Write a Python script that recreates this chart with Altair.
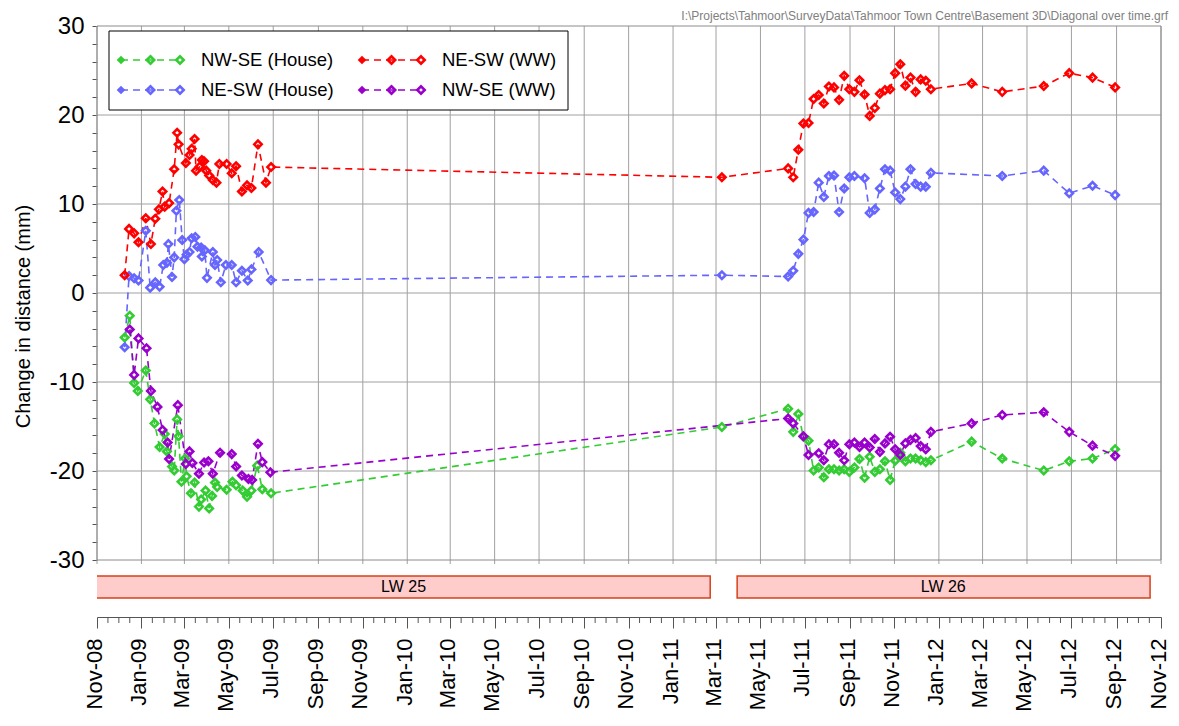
import altair as alt
import pandas as pd

FONT = "Liberation Sans"

# ---------------- data ----------------
series_names = ["NW-SE (House)", "NE-SW (House)", "NE-SW (WW)", "NW-SE (WW)"]
series_colors = ["#33CC33", "#6666FF", "#FF0000", "#9900CC"]

green_2009_dates = ["2008-12-09", "2008-12-16", "2008-12-22", "2008-12-27", "2009-01-07", "2009-01-13",
                    "2009-01-19", "2009-01-26", "2009-02-02", "2009-02-05", "2009-02-12", "2009-02-15",
                    "2009-02-19", "2009-02-21", "2009-02-25", "2009-03-02", "2009-03-04", "2009-03-10",
                    "2009-03-15", "2009-03-21", "2009-03-24", "2009-03-30", "2009-04-04", "2009-04-08",
                    "2009-04-12", "2009-04-15", "2009-04-28", "2009-05-06", "2009-05-11", "2009-05-20",
                    "2009-05-26", "2009-06-01", "2009-06-09", "2009-06-16", "2009-06-28"]
green_2009 = [-5.0, -2.55, -10.1, -11.0, -8.7, -11.95, -14.65, -17.3, -15.85, -17.8, -19.5, -19.95,
              -14.2, -16.1, -21.2, -18.6, -20.6, -22.5, -21.3, -24.0, -23.2, -22.2, -24.2, -22.8,
              -21.3, -21.8, -22.1, -21.2, -21.6, -22.2, -22.9, -22.2, -19.4, -22.05, -22.5]

blue_2009_dates = ["2008-12-09", "2008-12-15", "2008-12-22", "2008-12-28", "2009-01-07", "2009-01-13",
                   "2009-01-20", "2009-01-26", "2009-01-31", "2009-02-05", "2009-02-07", "2009-02-12",
                   "2009-02-15", "2009-02-18", "2009-02-22", "2009-02-26", "2009-03-01", "2009-03-04",
                   "2009-03-08", "2009-03-11", "2009-03-16", "2009-03-19", "2009-03-24", "2009-03-25",
                   "2009-03-29", "2009-04-01", "2009-04-09", "2009-04-12", "2009-04-15", "2009-04-20",
                   "2009-04-27", "2009-05-05", "2009-05-11", "2009-05-19", "2009-05-27", "2009-06-01",
                   "2009-06-11", "2009-06-28"]
blue_2009 = [-6.1, 1.9, 1.65, 1.4, 7.0, 0.6, 1.2, 0.7, 3.15, 3.4, 5.5, 1.8, 4.0, 9.25, 10.45, 5.95,
             3.8, 4.3, 4.6, 6.15, 6.3, 5.2, 5.1, 4.1, 4.8, 1.7, 4.6, 3.15, 3.7, 1.2, 3.15, 3.15, 1.2,
             2.5, 1.4, 2.65, 4.6, 1.45]

red_2009_dates = ["2008-12-09", "2008-12-15", "2008-12-22", "2008-12-28", "2009-01-07", "2009-01-14",
                  "2009-01-20", "2009-01-25", "2009-01-30", "2009-02-02", "2009-02-08", "2009-02-15",
                  "2009-02-19", "2009-02-21", "2009-03-03", "2009-03-08", "2009-03-11", "2009-03-15",
                  "2009-03-17", "2009-03-22", "2009-03-25", "2009-03-28", "2009-03-31", "2009-04-04",
                  "2009-04-09", "2009-04-14", "2009-04-18", "2009-04-28", "2009-05-05", "2009-05-11",
                  "2009-05-19", "2009-05-26", "2009-06-01", "2009-06-10", "2009-06-21", "2009-06-28"]
red_2009 = [2.0, 7.2, 6.7, 5.7, 8.4, 5.5, 8.35, 9.4, 11.4, 9.7, 10.1, 13.9, 18.0, 16.7, 14.6, 15.5,
            16.2, 17.3, 13.75, 14.2, 14.95, 14.8, 13.75, 13.2, 12.7, 12.4, 14.5, 14.5, 13.45, 14.25,
            11.4, 12.1, 11.8, 16.7, 12.4, 14.15]

purple_2009_dates = ["2008-12-16", "2008-12-22", "2008-12-28", "2009-01-08", "2009-01-14", "2009-01-23",
                     "2009-01-30", "2009-02-06", "2009-02-08", "2009-02-20", "2009-03-03", "2009-03-08",
                     "2009-03-12", "2009-03-21", "2009-03-28", "2009-04-03", "2009-04-09", "2009-04-19",
                     "2009-05-05", "2009-05-11", "2009-05-19", "2009-05-28", "2009-06-02", "2009-06-10",
                     "2009-06-16", "2009-06-27"]
purple_2009 = [-4.1, -9.2, -5.1, -6.2, -11.0, -12.8, -15.4, -16.8, -18.65, -12.6, -19.2, -17.8, -19.1,
               -20.3, -19.05, -18.9, -20.3, -17.95, -18.1, -19.5, -20.5, -20.9, -21.0, -16.95, -19.0,
               -20.15]

mid_date = "2011-03-09"
mid_vals = [-15.05, 2.0, 13.0, None]

weekly_2011 = ["2011-06-08", "2011-06-15", "2011-06-22", "2011-06-29", "2011-07-06", "2011-07-13",
               "2011-07-20", "2011-07-27", "2011-08-03", "2011-08-10", "2011-08-17", "2011-08-24",
               "2011-08-31", "2011-09-07", "2011-09-14", "2011-09-21", "2011-09-28", "2011-10-05",
               "2011-10-12", "2011-10-19", "2011-10-26", "2011-11-02", "2011-11-09", "2011-11-16",
               "2011-11-23", "2011-11-30", "2011-12-07", "2011-12-14", "2011-12-21"]
green_2011 = [-13.0, -15.6, -13.6, -16.15, -16.6, -19.95, -19.6, -20.7, -19.8, -19.8, -19.95, -19.8,
              -20.1, -19.6, -18.65, -20.75, -18.4, -20.1, -19.8, -18.9, -21.0, -18.85, -17.95, -18.9,
              -18.6, -18.6, -18.8, -19.0, -18.8]
blue_2011 = [1.85, 2.5, 4.4, 6.0, 9.0, 9.1, 12.4, 10.8, 13.15, 13.2, 9.1, 11.75, 13.0, 13.15, None,
             12.9, 9.0, 9.4, 11.75, 13.9, 13.75, 11.3, 10.55, 11.95, 13.9, 12.25, 11.95, 11.95, 13.5]
red_2011 = [14.0, 13.0, 16.1, 19.05, 19.1, 21.8, 22.25, 21.3, 23.2, 23.1, 21.7, 24.4, 22.9, 22.6, 23.9,
            22.3, 19.9, 20.8, 22.4, 22.8, 22.9, 24.7, 25.7, 23.3, 24.2, 22.6, 24.0, 23.85, 22.9]
purple_2011 = [-14.1, -14.65, None, -16.1, -18.2, None, -18.0, -18.8, -17.0, -17.0, -17.95, -18.8,
               -17.0, -16.8, -17.3, -16.8, -17.35, -16.4, -17.85, -16.9, -16.15, -17.55, -18.2, -16.9,
               -16.5, -16.3, -17.2, -17.55, -15.6]

survey_2012 = ["2012-02-15", "2012-03-28", "2012-05-24", "2012-06-28", "2012-07-30", "2012-08-30"]
green_2012 = [-16.7, -18.6, -19.95, -18.9, -18.6, -17.55]
blue_2012 = [None, 13.15, 13.75, 11.2, 12.05, 11.0]
red_2012 = [23.55, 22.6, 23.25, 24.7, 24.2, 23.1]
purple_2012 = [-14.65, -13.7, -13.4, -15.6, -17.15, -18.3]

panel_names = ["LW 25", "LW 26"]
panel_start = ["2008-09-01", "2011-03-30"]
panel_end = ["2011-02-21", "2012-10-17"]

y_ticks = list(range(-30, 31, 2))
y_grid = [-20, -10, 0, 10, 20]
file_path = r"I:\Projects\Tahmoor\SurveyData\Tahmoor Town Centre\Basement 3D\Diagonal over time.grf"

# ---------------- tables ----------------
early_dates = [green_2009_dates, blue_2009_dates, red_2009_dates, purple_2009_dates]
early_vals = [green_2009, blue_2009, red_2009, purple_2009]
vals_2011 = [green_2011, blue_2011, red_2011, purple_2011]
vals_2012 = [green_2012, blue_2012, red_2012, purple_2012]

rows = []
for i, name in enumerate(series_names):
    dates = list(early_dates[i]) + [mid_date] + weekly_2011 + survey_2012
    vals = list(early_vals[i]) + [mid_vals[i]] + vals_2011[i] + vals_2012[i]
    for d, v in zip(dates, vals):
        if v is not None:
            rows.append({"series": name, "date": d, "value": v})
df = pd.DataFrame(rows)

# 2-monthly major ticks and half-month minor ticks
major = []
for k in range(25):
    m = 10 + 2 * k
    major.append(f"{2008 + m // 12}-{m % 12 + 1:02d}-01")
minor = []
for k in range(48):
    m = 10 + k
    ys, ms = 2008 + m // 12, m % 12 + 1
    if k % 2 == 1:
        minor.append(f"{ys}-{ms:02d}-01")
    minor.append(f"{ys}-{ms:02d}-16")


def dt(s):
    return alt.DateTime(year=int(s[:4]), month=int(s[5:7]), date=int(s[8:10]), utc=True)


# ---------------- geometry ----------------
W = 1064
PAD_R = 10
PLOT_H = 534          # main panel height
H = 591               # total height incl. LW panel (down to time axis)
Y_MIN = 30 - 60 * H / PLOT_H

xscale = alt.Scale(type="utc", domain=[dt(major[0]), dt(major[-1])], nice=False)
yscale = alt.Scale(domain=[Y_MIN, 30], nice=False, zero=False)
cscale = alt.Scale(domain=series_names, range=series_colors)

xaxis = alt.Axis(orient="bottom", values=[dt(s) for s in major], format="%b-%y", labelAngle=270,
                 labelFontSize=22, labelFont=FONT, labelColor="black", labelPadding=10, labelOffset=-3,
                 tickSize=11, tickColor="#555555", domainColor="#555555", grid=False, title=None,
                 labelOverlap=False, labelFlush=False, labelBound=False)
yaxis = alt.Axis(orient="left", values=y_ticks, labelExpr="datum.value % 10 == 0 ? '' + datum.value : ''",
                 title="Change in distance (mm)", titleFontSize=20, titleFontWeight="normal",
                 titleFont=FONT, titleColor="black", titleX=-64, titleY=290,
                 labelFontSize=24, labelFont=FONT, labelColor="black", labelPadding=8, tickSize=5,
                 tickColor="#555555", domain=False, grid=False, labelOverlap=False, labelFlush=False)

GRID = "#A0A0A0"

vgrid = alt.Chart(pd.DataFrame({"date": major})).mark_rule(color=GRID, strokeWidth=1).encode(
    x=alt.X("date:T", scale=xscale, axis=xaxis),
    y=alt.value(0), y2=alt.value(PLOT_H + 4),
)
hgrid = alt.Chart(pd.DataFrame({"v": y_grid})).mark_rule(color=GRID, strokeWidth=1).encode(
    y=alt.Y("v:Q", scale=yscale, axis=yaxis),
    x=alt.value(0), x2=alt.value(W),
)
frame = alt.Chart(pd.DataFrame({"a": [0]})).mark_rect(fillOpacity=0, stroke="#8C8C8C", strokeWidth=1).encode(
    x=alt.value(0), x2=alt.value(W), y=alt.value(0), y2=alt.value(PLOT_H),
)
minor_ticks = alt.Chart(pd.DataFrame({"date": minor})).mark_rule(color="#555555", strokeWidth=1).encode(
    x=alt.X("date:T", scale=xscale, axis=None),
    y=alt.value(H), y2=alt.value(H + 6),
)

pan = pd.DataFrame({"name": panel_names, "start": panel_start, "end": panel_end})
vis_start = pan["start"].where(pan["start"] > major[0], major[0])
pan["mid"] = (pd.to_datetime(vis_start) + (pd.to_datetime(pan["end"]) - pd.to_datetime(vis_start)) / 2).dt.strftime("%Y-%m-%d")

lw_rect = alt.Chart(pan).mark_rect(fill="#FFCCCC", stroke="#D8401A", strokeWidth=1.5, clip=True).encode(
    x=alt.X("start:T", scale=xscale, axis=None), x2="end:T",
    y=alt.value(550), y2=alt.value(572),
)
lw_text = alt.Chart(pan).mark_text(fontSize=16, font=FONT, color="black", baseline="middle").encode(
    x=alt.X("mid:T", scale=xscale, axis=None), y=alt.value(561), text="name:N",
)

base = alt.Chart(df).encode(
    x=alt.X("date:T", scale=xscale, axis=None),
    y=alt.Y("value:Q", scale=yscale, axis=None),
    color=alt.Color("series:N", scale=cscale, legend=None),
)
lines = base.mark_line(strokeDash=[7, 5], strokeWidth=1.6)
points = base.mark_point(shape="diamond", filled=False, strokeWidth=2.6, size=55, opacity=1)

# ---------------- legend (drawn) ----------------
LEG_X = [24, 265]
LEG_Y = [34, 64]
leg_rows, leg_pts = [], []
for i, name in enumerate(series_names):
    x0, yy = LEG_X[i // 2], LEG_Y[i % 2]
    leg_rows.append({"series": name, "x": x0, "x2": x0 + 59, "y": yy, "tx": x0 + 80})
    for k in range(3):
        leg_pts.append({"series": name, "x": x0 + 29.5 * k, "y": yy, "filled": k == 0})
leg = pd.DataFrame(leg_rows)
legp = pd.DataFrame(leg_pts)

legend_box = alt.Chart(pd.DataFrame({"a": [0]})).mark_rect(fill="white", stroke="black", strokeWidth=1).encode(
    x=alt.value(12), x2=alt.value(471), y=alt.value(5), y2=alt.value(84),
)
legend_lines = alt.Chart(leg).mark_rule(strokeDash=[7, 5], strokeWidth=1.6).encode(
    x=alt.X("x:Q", scale=None, axis=None), x2="x2:Q", y=alt.Y("y:Q", scale=None, axis=None),
    color=alt.Color("series:N", scale=cscale, legend=None),
)
legend_filled = alt.Chart(legp[legp["filled"]]).mark_point(shape="diamond", filled=True, size=75, opacity=1).encode(
    x=alt.X("x:Q", scale=None, axis=None), y=alt.Y("y:Q", scale=None, axis=None),
    color=alt.Color("series:N", scale=cscale, legend=None),
)
legend_hollow = alt.Chart(legp[~legp["filled"]]).mark_point(shape="diamond", filled=False, strokeWidth=2.6, size=55, opacity=1).encode(
    x=alt.X("x:Q", scale=None, axis=None), y=alt.Y("y:Q", scale=None, axis=None),
    color=alt.Color("series:N", scale=cscale, legend=None),
)
legend_text = alt.Chart(leg).mark_text(align="left", baseline="middle", fontSize=18.5, font=FONT, color="black").encode(
    x=alt.X("tx:Q", scale=None, axis=None), y=alt.Y("y:Q", scale=None, axis=None), text="series:N",
)

path_text = alt.Chart(pd.DataFrame({"t": [file_path]})).mark_text(
    align="right", baseline="middle", fontSize=12, font=FONT, color="#808080"
).encode(x=alt.value(W + PAD_R - 3), y=alt.value(-10), text="t:N")

chart = alt.layer(
    vgrid, hgrid, frame, minor_ticks, lw_rect, lw_text, lines, points,
    legend_box, legend_lines, legend_filled, legend_hollow, legend_text, path_text,
).resolve_axis(x="independent", y="independent").properties(
    width=W, height=H,
    padding={"left": 89, "top": 18, "right": PAD_R, "bottom": 96},
    autosize=alt.AutoSizeParams(type="none"),
    background="white",
).configure_view(stroke=None)

chart.save("out.html", embed_options={"renderer": "svg", "actions": False})
